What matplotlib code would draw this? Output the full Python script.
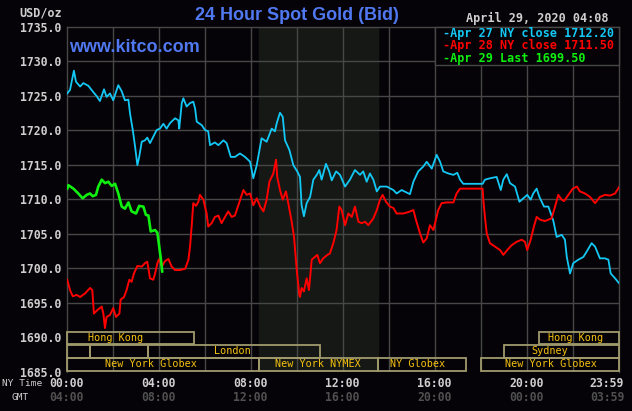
import matplotlib
matplotlib.use("Agg")
import matplotlib.pyplot as plt
import matplotlib.transforms as mtransforms
from matplotlib.patches import Rectangle

# ---------------- data ----------------
cyan_h = [0.01, 0.13, 0.30, 0.39, 0.57, 0.71, 0.93, 1.07, 1.29, 1.43, 1.61, 1.72, 1.87, 2.01,
          2.23, 2.38, 2.52, 2.67, 2.74, 2.86, 2.96, 3.06, 3.14, 3.25, 3.39, 3.49, 3.61, 3.90,
          4.04, 4.19, 4.33, 4.48, 4.70, 4.84, 4.88, 4.99, 5.06, 5.20, 5.35, 5.49, 5.57, 5.64,
          5.86, 6.00, 6.14, 6.22, 6.43, 6.58, 6.80, 6.94, 7.12, 7.30, 7.52, 7.74, 7.96, 8.10,
          8.25, 8.46, 8.68, 8.90, 9.04, 9.12, 9.26, 9.38, 9.48, 9.67, 9.84, 10.01, 10.13, 10.20,
          10.30, 10.42, 10.57, 10.71, 10.86, 10.97, 11.07, 11.26, 11.40, 11.51, 11.70, 11.87,
          12.09, 12.30, 12.52, 12.74, 12.88, 13.03, 13.17, 13.32, 13.47, 13.61, 13.90, 14.19,
          14.33, 14.55, 14.91, 15.06, 15.27, 15.49, 15.64, 15.86, 16.07, 16.22, 16.36, 16.58,
          16.80, 16.97, 17.09, 17.23, 18.07, 18.17, 18.39, 18.68, 18.86, 18.97, 19.12, 19.26,
          19.48, 19.67, 19.84, 20.01, 20.16, 20.27, 20.42, 20.54, 20.74, 20.93, 21.14, 21.29,
          21.51, 21.65, 21.73, 21.87, 22.01, 22.23, 22.45, 22.60, 22.81, 22.96, 23.17, 23.39,
          23.54, 23.64, 23.83, 24.0]
cyan_v = [1725.3, 1725.8, 1728.6, 1727.0, 1726.3, 1726.8, 1726.4, 1725.8, 1724.9, 1724.2, 1725.9,
          1724.8, 1725.3, 1724.3, 1726.5, 1725.6, 1724.3, 1724.4, 1722.4, 1720.0, 1717.6, 1714.9,
          1716.1, 1718.3, 1718.5, 1718.9, 1718.1, 1720.0, 1720.2, 1720.9, 1720.2, 1721.0, 1721.7,
          1721.4, 1720.2, 1723.9, 1724.6, 1723.4, 1723.9, 1724.1, 1723.1, 1721.2, 1720.7, 1720.0,
          1719.8, 1717.8, 1718.2, 1717.8, 1718.5, 1718.1, 1716.1, 1716.1, 1716.6, 1716.1, 1715.4,
          1713.0, 1714.9, 1718.8, 1718.3, 1720.2, 1719.8, 1721.0, 1722.5, 1721.9, 1718.5, 1717.1,
          1714.9, 1714.0, 1713.2, 1709.1, 1707.5, 1709.4, 1710.3, 1712.8, 1713.5, 1714.2, 1712.8,
          1715.1, 1714.0, 1712.7, 1714.0, 1713.5, 1711.8, 1712.8, 1714.2, 1713.5, 1714.0, 1712.5,
          1713.7, 1712.8, 1711.1, 1711.8, 1711.8, 1711.3, 1710.8, 1711.3, 1710.7, 1712.5, 1714.0,
          1714.7, 1715.4, 1714.4, 1716.4, 1715.4, 1714.0, 1713.7, 1713.5, 1713.8, 1712.8, 1712.2,
          1712.2, 1712.8, 1713.0, 1713.2, 1711.3, 1712.8, 1713.6, 1712.3, 1711.8, 1709.6, 1710.1,
          1710.6, 1709.9, 1710.8, 1711.5, 1710.3, 1708.9, 1708.9, 1706.9, 1704.5, 1704.8, 1704.1,
          1701.6, 1699.2, 1700.7, 1701.2, 1701.6, 1702.4, 1703.6, 1703.1, 1701.4, 1701.4, 1701.2,
          1699.2, 1698.5, 1697.8]

red_h = [0.01, 0.13, 0.25, 0.42, 0.57, 0.78, 1.00, 1.10, 1.17, 1.32, 1.51, 1.58, 1.65, 1.72,
         1.87, 2.01, 2.13, 2.28, 2.33, 2.48, 2.59, 2.71, 2.81, 2.91, 3.06, 3.25, 3.39, 3.49,
         3.61, 3.75, 3.83, 3.93, 4.01, 4.12, 4.26, 4.41, 4.55, 4.70, 4.91, 5.14, 5.28, 5.35,
         5.43, 5.49, 5.61, 5.71, 5.78, 5.93, 6.07, 6.14, 6.29, 6.43, 6.58, 6.72, 6.87, 7.01,
         7.16, 7.30, 7.45, 7.67, 7.81, 7.96, 8.10, 8.25, 8.40, 8.54, 8.68, 8.80, 8.90, 8.97,
         9.09, 9.14, 9.26, 9.38, 9.52, 9.62, 9.77, 9.87, 9.99, 10.10, 10.13, 10.20, 10.30,
         10.42, 10.52, 10.64, 10.78, 10.88, 11.00, 11.14, 11.32, 11.43, 11.58, 11.72, 11.84,
         11.94, 12.09, 12.23, 12.38, 12.52, 12.67, 12.81, 12.96, 13.10, 13.32, 13.47, 13.61,
         13.72, 13.87, 14.04, 14.19, 14.33, 14.62, 14.84, 15.06, 15.17, 15.35, 15.49, 15.64,
         15.78, 15.93, 16.04, 16.14, 16.29, 16.51, 16.80, 16.94, 17.09, 18.07, 18.10, 18.17,
         18.25, 18.39, 18.61, 18.83, 18.97, 19.14, 19.33, 19.55, 19.77, 19.91, 20.01, 20.16,
         20.30, 20.42, 20.57, 20.78, 21.07, 21.22, 21.36, 21.51, 21.61, 21.80, 21.99, 22.17,
         22.30, 22.52, 22.74, 22.96, 23.17, 23.39, 23.61, 23.83, 24.0]
red_v = [1698.3, 1696.8, 1695.9, 1696.1, 1695.8, 1696.3, 1697.1, 1696.8, 1693.4, 1693.9, 1694.4,
         1693.4, 1691.3, 1692.9, 1693.2, 1694.2, 1692.9, 1693.4, 1695.4, 1695.8, 1696.8, 1698.3,
         1698.0, 1699.2, 1700.3, 1700.2, 1700.7, 1700.9, 1698.5, 1698.3, 1699.2, 1700.7, 1701.3,
         1700.2, 1701.0, 1701.3, 1700.2, 1699.7, 1699.7, 1699.9, 1701.2, 1703.1, 1706.5, 1709.4,
         1709.0, 1709.6, 1710.6, 1709.9, 1707.9, 1706.0, 1706.5, 1707.4, 1707.6, 1706.5, 1707.4,
         1708.2, 1707.4, 1707.6, 1709.1, 1711.3, 1710.6, 1710.8, 1709.1, 1710.1, 1708.9, 1708.2,
         1709.9, 1712.5, 1713.2, 1713.7, 1715.7, 1713.2, 1711.3, 1709.9, 1711.1, 1709.4, 1706.7,
         1704.5, 1699.7, 1696.1, 1695.8, 1697.1, 1696.6, 1698.5, 1696.8, 1701.2, 1701.6, 1701.9,
         1700.7, 1701.4, 1701.9, 1702.1, 1703.6, 1705.5, 1708.9, 1708.4, 1706.2, 1707.9, 1707.4,
         1708.9, 1706.7, 1706.5, 1706.7, 1706.2, 1707.2, 1708.4, 1709.9, 1710.6, 1709.6, 1708.9,
         1708.7, 1707.9, 1707.9, 1708.1, 1708.4, 1707.0, 1705.0, 1703.7, 1704.3, 1706.2, 1705.5,
         1707.0, 1708.4, 1709.4, 1709.5, 1709.5, 1710.8, 1711.5, 1711.5, 1709.9, 1707.4, 1705.0,
         1703.6, 1703.1, 1702.6, 1701.9, 1702.6, 1703.3, 1703.8, 1704.1, 1703.8, 1702.6, 1704.1,
         1706.0, 1707.4, 1707.0, 1706.8, 1707.2, 1708.9, 1710.6, 1709.9, 1709.7, 1710.6, 1711.5,
         1711.8, 1711.1, 1710.8, 1710.3, 1709.4, 1710.3, 1710.6, 1710.5, 1710.8, 1711.7]

green_h = [0.01, 0.06, 0.28, 0.49, 0.68, 0.86, 1.00, 1.12, 1.26, 1.36, 1.51, 1.65, 1.80, 1.94,
           2.09, 2.23, 2.38, 2.52, 2.67, 2.81, 3.00, 3.14, 3.32, 3.43, 3.54, 3.64, 3.83, 3.93,
           3.99, 4.07, 4.14]
green_v = [1711.5, 1712.0, 1711.5, 1710.8, 1710.1, 1710.6, 1710.8, 1710.4, 1710.6, 1711.8, 1712.8,
           1712.3, 1712.5, 1711.9, 1712.2, 1710.8, 1708.9, 1708.6, 1709.5, 1708.2, 1707.9, 1709.0,
           1708.9, 1707.7, 1707.6, 1705.3, 1705.5, 1705.1, 1703.6, 1701.6, 1699.5]

y_ticks = [1685, 1690, 1695, 1700, 1705, 1710, 1715, 1720, 1725, 1730, 1735]
grid_y = [1695, 1700, 1705, 1710, 1715, 1720, 1725, 1730]
grid_x = [2, 4, 6, 8, 10, 12, 14, 16, 18, 20, 22]
ny_labels = ["00:00", "04:00", "08:00", "12:00", "16:00", "20:00", "23:59"]
gmt_labels = ["04:00", "08:00", "12:00", "16:00", "20:00", "00:00", "03:59"]
label_hours = [0, 4, 8, 12, 16, 20, 23.5]

legend_texts = ["-Apr 27 NY close 1712.20", "-Apr 28 NY close 1711.50", "-Apr 29 Last 1699.50"]

shade_start, shade_end = 8.33, 13.5

# sessions: name, start, end, row, label position (hours)
sess_name = ["Hong Kong", "", "", "London", "New York Globex", "New York NYMEX", "NY Globex",
             "New York Globex", "Sydney", "Hong Kong"]
sess_start = [0, 0, 1.0, 3.5, 0, 8.33, 13.5, 18.0, 19.0, 20.5]
sess_end = [5.5, 1.0, 3.5, 11.0, 8.33, 13.5, 17.35, 24, 24, 24]
sess_row = [0, 1, 1, 1, 2, 2, 2, 2, 1, 0]
sess_lab = [2.13, None, None, 7.17, 3.65, 10.9, 15.23, 21.02, 21.01, 22.09]
row_y = [(1688.94, 1690.68), (1687.0, 1688.84), (1685.07, 1687.0)]

# ---------------- style ----------------
BG = "#050307"
GRID = "#474747"
CYAN = "#14c8f5"
RED = "#ff0000"
GREEN = "#10f010"
BLUE = "#5078f0"
LIGHT = "#cfcfcf"
DARK = "#505050"
BOX = "#a09a6c"
SESS = "#f5c210"
MONO = "DejaVu Sans Mono"

W, H = 632, 411
fig = plt.figure(figsize=(W / 100, H / 100), dpi=100, facecolor=BG)
x0, x1, yt, yb = 67, 619, 26.5, 371.5
ax = fig.add_axes([x0 / W, 1 - yb / H, (x1 - x0) / W, (yb - yt) / H])
ax.set_facecolor(BG)
ax.set_xlim(0, 24)
ax.set_ylim(1685, 1735)

for s in ["left", "right", "top"]:
    ax.spines[s].set_color(GRID)
    ax.spines[s].set_linewidth(1.0)
ax.spines["bottom"].set_visible(False)

ax.set_xticks([])
ax.set_yticks(y_ticks)
ax.set_yticklabels([f"{v:.1f}" for v in y_ticks], fontfamily=MONO, fontweight="bold",
                   fontsize=8.3, color=LIGHT)
ax.tick_params(axis="y", length=0, pad=4)

ax.axvspan(shade_start, shade_end, color="#151815", zorder=0)
for gy in grid_y:
    ax.axhline(gy, color=GRID, lw=1.0, zorder=1)
for gx in grid_x:
    ax.axvline(gx, color=GRID, lw=1.0, zorder=1)

# sessions
for name, s0, s1, r, lp in zip(sess_name, sess_start, sess_end, sess_row, sess_lab):
    lo, hi = row_y[r]
    ax.add_patch(Rectangle((s0, lo), s1 - s0, hi - lo, fill=False, edgecolor=BOX,
                           lw=1.3, zorder=3, clip_on=False))
    if name:
        ax.text(lp, (lo + hi) / 2, name, color=SESS, fontsize=7.3, fontfamily=MONO,
                ha="center", va="center", zorder=4)

ax.plot(cyan_h, cyan_v, color=CYAN, lw=1.3, zorder=5)
ax.plot(red_h, red_v, color=RED, lw=1.4, zorder=5)
ax.plot(green_h, green_v, color=GREEN, lw=1.9, zorder=6)

# legend box
ax.add_patch(Rectangle((16, 1729.42), 8, 5.58, facecolor=BG, edgecolor=GRID, lw=1.0,
                       zorder=7, clip_on=False))
for i, (t, c) in enumerate(zip(legend_texts, [CYAN, RED, GREEN])):
    fig.text(443 / W, 1 - (33.3 + i * 12.6) / H, t, color=c, fontsize=8.5, fontfamily=MONO,
             fontweight="bold", ha="left", va="center", zorder=8)

# texts
fig.text(297 / W, 1 - 15 / H, "24 Hour Spot Gold (Bid)", color=BLUE, fontsize=13,
         fontfamily="Liberation Sans", fontweight="bold", ha="center", va="center")
fig.text(69 / W, 1 - 48 / H, "www.kitco.com", color=BLUE, fontsize=13,
         fontfamily="Liberation Sans", fontweight="bold", ha="left", va="center", zorder=9)
fig.text(62 / W, 1 - 12.7 / H, "USD/oz", color=LIGHT, fontsize=8.5, fontfamily=MONO,
         fontweight="bold", ha="right", va="center")
fig.text(609 / W, 1 - 18.3 / H, "April 29, 2020 04:08", color=LIGHT, fontsize=8.5,
         fontfamily=MONO, fontweight="bold", ha="right", va="center")

tr = mtransforms.blended_transform_factory(ax.transData, fig.transFigure)
for h, a, b in zip(label_hours, ny_labels, gmt_labels):
    ax.text(h - 0.02, 1 - 383.5 / H, a, transform=tr, color=LIGHT, fontsize=8.3,
            fontfamily=MONO, fontweight="bold", ha="center", va="center", clip_on=False)
    ax.text(h - 0.02, 1 - 397 / H, b, transform=tr, color=DARK, fontsize=8.3,
            fontfamily=MONO, fontweight="bold", ha="center", va="center", clip_on=False)
fig.text(2 / W, 1 - 383.5 / H, "NY Time", color=LIGHT, fontsize=6.8, fontfamily=MONO,
         ha="left", va="center")
fig.text(20.5 / W, 1 - 397 / H, "GMT", color=LIGHT, fontsize=6.8, fontfamily=MONO,
         ha="center", va="center")

fig.savefig("out.png", dpi=100, facecolor=BG)
